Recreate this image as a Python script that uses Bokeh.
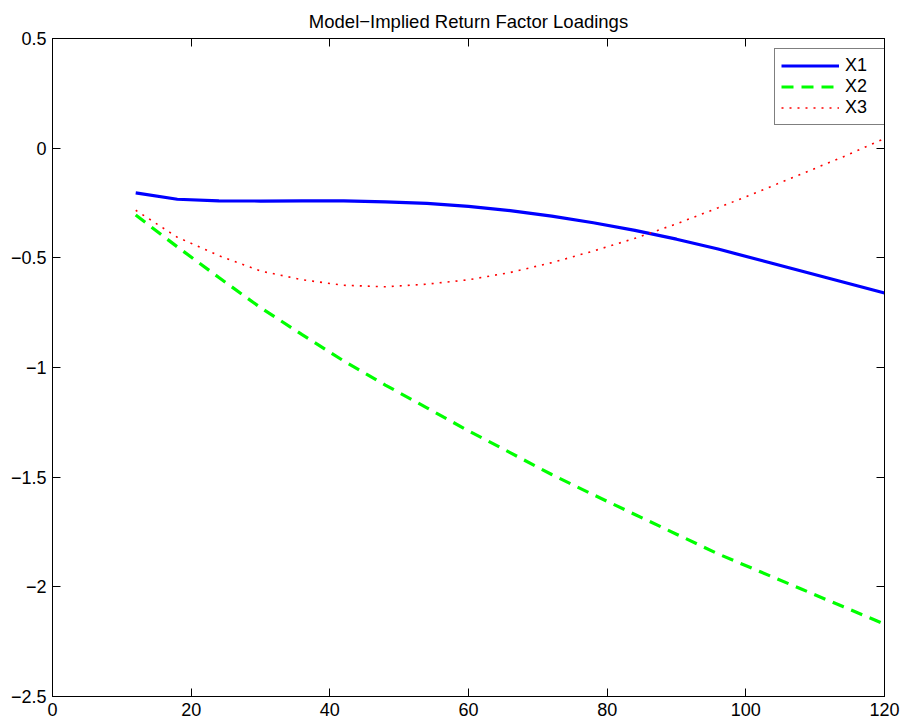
from bokeh.plotting import figure
from bokeh.models import (LinearAxis, FixedTicker, CustomJSTickFormatter, Range1d,
                          Legend, LegendItem)
from bokeh.embed import file_html
from bokeh.resources import INLINE

# ---- data ----
maturities = [12, 18, 24, 30, 36, 42, 48, 54, 60, 66, 72, 78, 84, 90, 96, 102, 108, 114, 120]
x1 = [-0.204, -0.233, -0.240, -0.241, -0.240, -0.240, -0.245, -0.252, -0.265, -0.285,
      -0.310, -0.340, -0.375, -0.415, -0.460, -0.510, -0.560, -0.610, -0.660]
x2 = [-0.305, -0.450, -0.590, -0.727, -0.850, -0.970, -1.080, -1.184, -1.289, -1.388,
      -1.488, -1.580, -1.670, -1.760, -1.850, -1.930, -2.010, -2.090, -2.170]
x3 = [-0.283, -0.406, -0.490, -0.560, -0.600, -0.625, -0.632, -0.620, -0.600, -0.567,
      -0.522, -0.469, -0.411, -0.345, -0.272, -0.196, -0.118, -0.040, 0.044]
series_names = ["X1", "X2", "X3"]
x_ticks = [0, 20, 40, 60, 80, 100, 120]
y_ticks = [-2.5, -2.0, -1.5, -1.0, -0.5, 0.0, 0.5]
title_text = "Model\u2212Implied Return Factor Loadings"

FONT = "Liberation Sans"

p = figure(width=904, height=723, output_backend="svg", toolbar_location=None,
           x_range=Range1d(0, 120), y_range=Range1d(-2.5, 0.5),
           min_border_left=52, min_border_right=20, min_border_top=38, min_border_bottom=27,
           x_axis_location=None, y_axis_location=None, title=title_text)

p.background_fill_color = "white"
p.border_fill_color = "white"
p.outline_line_color = "black"
p.outline_line_width = 1
p.xgrid.visible = False
p.ygrid.visible = False

p.title.align = "center"
p.title.text_font = FONT
p.title.text_font_size = "18.5px"
p.title.text_font_style = "normal"
p.title.text_color = "black"
p.title.standoff = 10
p.title.vertical_align = "top"

fmt = CustomJSTickFormatter(code="return String(tick).replace('-', '\u2212');")
blank = CustomJSTickFormatter(code="return '';")


def style(ax, ticks, show):
    ax.ticker = FixedTicker(ticks=ticks)
    ax.minor_tick_line_color = None
    ax.major_tick_in = 8
    ax.major_tick_out = 0
    ax.axis_line_color = "black"
    ax.major_tick_line_color = "black"
    ax.major_label_text_font = FONT
    ax.major_label_text_color = "black"
    if show:
        ax.formatter = fmt
        ax.major_label_text_font_size = "18px"
        ax.major_label_standoff = 6
    else:
        ax.formatter = blank
        ax.major_label_text_font_size = "1px"
        ax.major_label_standoff = 0
    return ax


p.add_layout(style(LinearAxis(), x_ticks, True), "below")
p.add_layout(style(LinearAxis(), y_ticks, True), "left")
p.add_layout(style(LinearAxis(), x_ticks, False), "above")
p.add_layout(style(LinearAxis(), y_ticks, False), "right")

r1 = p.line(maturities, x1, line_color="#0000FF", line_width=3.2)
r2 = p.line(maturities, x2, line_color="#00FF00", line_width=3.2, line_dash="12 8")
r3 = p.line(maturities, x3, line_color="#FF0000", line_width=1.6, line_dash="2 6")

legend = Legend(items=[LegendItem(label=series_names[0], renderers=[r1]),
                       LegendItem(label=series_names[1], renderers=[r2]),
                       LegendItem(label=series_names[2], renderers=[r3])],
                location=(722, 571))
legend.label_text_font = FONT
legend.label_text_font_size = "18px"
legend.label_text_color = "black"
legend.border_line_color = "black"
legend.border_line_width = 1.2
legend.background_fill_color = "white"
legend.background_fill_alpha = 1
legend.glyph_width = 58
legend.glyph_height = 19
legend.label_height = 19
legend.label_width = 33
legend.label_standoff = 6
legend.padding = 6
legend.spacing = 0
legend.margin = 0
p.add_layout(legend, "center")

open("out.html", "w").write(file_html(p, INLINE))
